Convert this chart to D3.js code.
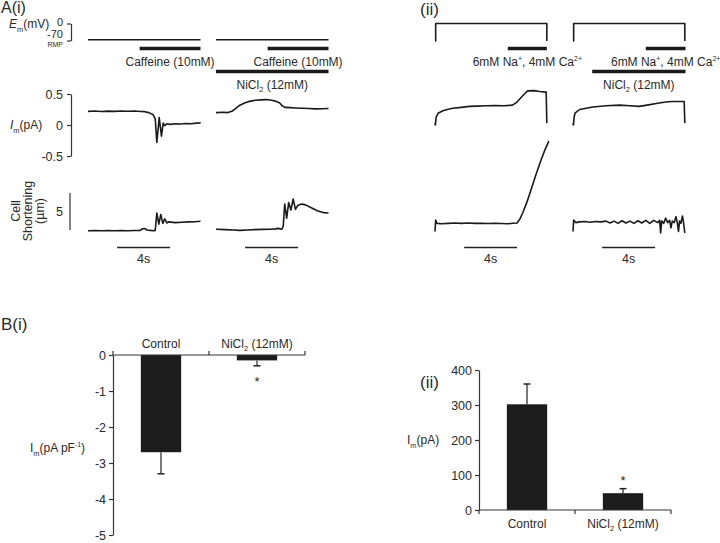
<!DOCTYPE html>
<html>
<head>
<meta charset="utf-8">
<script src="https://cdn.jsdelivr.net/npm/d3@7"></script>
<style>
  body { margin: 0; background: #fff; }
  svg { font-family: "Liberation Sans", Arial, sans-serif; }
  text { fill: #2a2a2a; }
  .trace { fill: none; stroke: #1a1a1a; stroke-width: 1.6; stroke-linejoin: round; }
  .axis path, .axis line { stroke: #333; stroke-width: 1.2; }
  .axis text { font-size: 12.5px; fill: #2a2a2a; font-family: "Liberation Sans", Arial, sans-serif; }
</style>
</head>
<body>
<svg id="fig" width="720" height="543"></svg>
<script>
// traces: [time (s), value]
const emCaff = [[0, -67], [8.5, -67]];
const protocol = [[0, -72], [0.05, -72], [0.05, 0], [8.45, 0], [8.45, -72]];

const imCaff = [[0, 0.22], [0.5, 0.225], [1, 0.218], [1.5, 0.224], [2, 0.22], [2.5, 0.226], [3, 0.221],
  [3.5, 0.225], [4, 0.218], [4.3, 0.215], [4.6, 0.2], [4.9, 0.17], [5.08, 0.1], [5.2, -0.28], [5.38, 0.12],
  [5.55, -0.18], [5.68, 0.03], [5.8, -0.01], [5.95, 0.02], [6.2, 0.01], [6.6, 0.02], [7, 0.015], [7.4, 0.025],
  [7.8, 0.02], [8.2, 0.03], [8.45, 0.035], [8.5, 0.045]];
const imNiCaff = [[0, 0.2], [0.5, 0.205], [0.9, 0.2], [1.2, 0.22], [1.5, 0.27], [1.8, 0.32], [2.2, 0.36],
  [2.6, 0.385], [3, 0.4], [3.4, 0.405], [3.8, 0.41], [4.2, 0.4], [4.5, 0.385], [4.8, 0.36], [5.0, 0.31],
  [5.2, 0.285], [5.6, 0.28], [6, 0.275], [6.5, 0.27], [7, 0.265], [7.5, 0.26], [8, 0.262], [8.5, 0.265]];

const shCaff = [[0, -0.1], [0.5, -0.08], [1, -0.1], [1.5, -0.07], [2, -0.1], [2.5, -0.08], [3, -0.1],
  [3.5, -0.06], [3.95, -0.05], [4.1, 0.15], [4.3, 0.2], [4.45, 0.0], [4.7, -0.05], [4.95, -0.1], [5.08, -0.05],
  [5.2, 2.3], [5.35, 0.8], [5.5, 2.1], [5.65, 0.9], [5.8, 1.5], [5.96, 0.95], [6.1, 1.1], [6.6, 1.0],
  [7.1, 1.05], [7.6, 1.1], [8.1, 1.12], [8.5, 1.18]];
const shNiCaff = [[0, 0.1], [0.7, 0.05], [1.3, 0.0], [1.8, -0.05], [2.4, 0.0], [2.9, 0.05], [3.5, 0.08],
  [4.1, 0.1], [4.5, 0.15], [4.7, 0.22], [4.97, 0.1], [5.08, 0.5], [5.19, 3.5], [5.34, 1.6], [5.49, 3.7],
  [5.66, 2.7], [5.83, 4.2], [6.0, 2.8], [6.17, 3.3], [6.47, 3.5], [6.77, 3.4], [7.2, 3.0], [7.65, 2.6],
  [8.1, 2.35], [8.5, 2.3]];

const imNaCa = [[0, 0.03], [0.03, 0.0], [0.08, 0.12], [0.23, 0.19], [0.6, 0.23], [1, 0.255], [1.35, 0.27],
  [2, 0.285], [2.6, 0.3], [3.2, 0.305], [3.9, 0.31], [4.5, 0.315], [5.2, 0.31], [5.85, 0.32], [6.15, 0.36],
  [6.4, 0.42], [6.75, 0.5], [7.0, 0.55], [7.5, 0.555], [7.9, 0.54], [8.4, 0.53], [8.45, 0.03]];
const imNaCaNi = [[0, 0.03], [0.03, 0.0], [0.08, 0.12], [0.15, 0.19], [0.5, 0.25], [1.5, 0.29], [2.5, 0.31],
  [3.5, 0.32], [4.3, 0.31], [5, 0.3], [5.6, 0.32], [6.4, 0.35], [7.0, 0.37], [7.5, 0.38], [8.4, 0.38],
  [8.45, 0.03]];

const shNaCa = [[0, -0.2], [0.05, 1.35], [0.15, 0.9], [0.5, 0.85], [1, 0.9], [1.5, 0.95], [2, 0.9],
  [2.5, 0.95], [3, 0.9], [3.5, 0.92], [4, 0.88], [4.5, 0.9], [5, 0.88], [5.5, 0.85], [5.9, 0.92],
  [6.2, 0.95], [6.42, 1.5], [6.65, 2.4], [6.95, 3.8], [7.25, 5.4], [7.63, 7.5], [8.0, 9.4], [8.3, 10.8],
  [8.6, 12.0]];
const shNaCaNi = [[0, -0.2], [0.05, 1.35], [0.2, 1.0], [0.5, 1.1], [0.9, 1.15], [1.3, 1.05], [1.7, 1.15],
  [2.1, 1.1], [2.5, 1.2], [2.8, 0.95], [3.1, 1.2], [3.4, 0.9], [3.7, 1.25], [4.0, 0.95], [4.3, 1.2],
  [4.6, 0.9], [4.9, 1.25], [5.2, 0.95], [5.5, 1.3], [5.8, 0.9], [6.1, 1.3], [6.4, 1.0], [6.55, 1.3],
  [6.62, -0.4], [6.7, 1.2], [6.85, 0.9], [7.0, 1.6], [7.15, 1.0], [7.3, 1.3], [7.4, 0.3], [7.5, 1.2],
  [7.65, 1.0], [7.78, 1.8], [7.88, 1.0], [7.97, -0.2], [8.05, 1.2], [8.15, 0.9], [8.27, 1.9], [8.35, 1.0],
  [8.45, -0.4]];

// drug applications [start, end] in s
const caffeineOn = [3.9, 8.5];
const nickelOn = [0, 8.5];
const naCaOn = [5.5, 8.45];
const nickelOnNaCa = [1.45, 8.5];
const scaleBar = [2.2, 6.2];

// bar charts
const barCats = ['Control', 'NiCl2 (12mM)'];
const densityMean = [-2.7, -0.15];
const densitySem = [0.6, 0.15];
const densityTicks = [0, -1, -2, -3, -4, -5];
const ampMean = [302, 48];
const ampSem = [58, 13];
const ampTicks = [0, 100, 200, 300, 400];

const svg = d3.select('#fig');
const FS = 12;

const DUR = 8.5;
const traceW = 112.5;
const tScale = (x0) => d3.scaleLinear().domain([0, DUR]).range([x0, x0 + traceW]);
const emY = d3.scaleLinear().domain([-70, 0]).range([40.5, 23.5]);
const imY = d3.scaleLinear().domain([-0.5, 0.5]).range([156, 94]);
const shY = d3.scaleLinear().domain([0, 5]).range([230, 193]);

function rich(g, x, y, parts, size = FS, anchor = 'start') {
  const t = g.append('text').attr('x', x).attr('y', y)
    .attr('font-size', size).attr('text-anchor', anchor);
  let shift = 0;
  parts.forEach(([s, k]) => {
    const sp = t.append('tspan').text(s);
    let target = 0;
    if (k === 'sub') { target = size * 0.3; sp.attr('font-size', size * 0.62); }
    if (k === 'sup') { target = -size * 0.4; sp.attr('font-size', size * 0.58); }
    if (k === 'i') sp.attr('font-style', 'italic');
    sp.attr('dy', target - shift);
    shift = target;
  });
  return t;
}

function trace(data, xs, ys) {
  svg.append('path')
    .datum(data)
    .attr('class', 'trace')
    .attr('d', d3.line().x((d) => xs(d[0])).y((d) => ys(d[1])));
}

function drugBar(on, xs, y) {
  svg.append('line')
    .attr('x1', xs(on[0])).attr('x2', xs(on[1]))
    .attr('y1', y).attr('y2', y)
    .attr('stroke', '#1a1a1a').attr('stroke-width', 3.6);
}

function timeBar(xs) {
  svg.append('line')
    .attr('x1', xs(scaleBar[0])).attr('x2', xs(scaleBar[1]))
    .attr('y1', 247.5).attr('y2', 247.5)
    .attr('stroke', '#222').attr('stroke-width', 1.3);
  svg.append('text')
    .attr('x', xs((scaleBar[0] + scaleBar[1]) / 2)).attr('y', 262.5)
    .attr('font-size', 12.5).attr('text-anchor', 'middle')
    .text('4s');
}

const caffLabel = [['Caffeine (10mM)', '']];
const naCaLabel = [['6mM Na', ''], ['+', 'sup'], [', 4mM Ca', ''], ['2+', 'sup']];
const niLabel = [['NiCl', ''], ['2', 'sub'], [' (12mM)', '']];

// ---------- A(i) ----------
svg.append('text').attr('x', 1).attr('y', 13).attr('font-size', 16).text('A(i)');

const emAxis = svg.append('g').attr('class', 'axis').attr('transform', 'translate(71,0)')
  .call(d3.axisLeft(emY).tickValues([-70, 0]).tickSize(4).tickSizeOuter(0).tickFormat(''));
emAxis.selectAll('text').remove();
rich(svg, 9, 28, [['E', 'i'], ['m', 'sub'], ['(mV)', '']]);
svg.append('text').attr('x', 63).attr('y', 25.5).attr('font-size', 11).attr('text-anchor', 'end').text('0');
svg.append('text').attr('x', 63).attr('y', 38).attr('font-size', 11).attr('text-anchor', 'end').text('-70');
svg.append('text').attr('x', 63).attr('y', 46.5).attr('font-size', 7).attr('text-anchor', 'end').text('RMP');

svg.append('g').attr('class', 'axis').attr('transform', 'translate(71,0)')
  .call(d3.axisLeft(imY).tickValues([-0.5, 0, 0.5]).tickSize(4).tickSizeOuter(0).tickPadding(4)
    .tickFormat((d) => String(d)));
rich(svg, 10, imY(0) + 4, [['I', 'i'], ['m', 'sub'], ['(pA)', '']]);

svg.append('line').attr('x1', 70).attr('x2', 70).attr('y1', shY(0)).attr('y2', shY(5))
  .attr('stroke', '#333').attr('stroke-width', 1.2);
svg.append('text').attr('x', 63).attr('y', shY(2.5) + 4.5).attr('font-size', 12.5)
  .attr('text-anchor', 'end').text('5');
['Cell', 'Shortening', '(\u00b5m)'].forEach((s, i) => {
  svg.append('text')
    .attr('transform', `translate(${20 + i * 12},${shY(2.5) - 0.5}) rotate(-90)`)
    .attr('font-size', 12.5).attr('text-anchor', 'middle').text(s);
});

const tA1 = tScale(88);
const tA2 = tScale(216);
trace(emCaff, tA1, emY);
trace(emCaff, tA2, emY);
drugBar(caffeineOn, tA1, 48.5);
drugBar(caffeineOn, tA2, 48.5);
rich(svg, tA1((caffeineOn[0] + caffeineOn[1]) / 2), 65.5, caffLabel, FS, 'middle');
rich(svg, tA2((caffeineOn[0] + caffeineOn[1]) / 2), 65.5, caffLabel, FS, 'middle');
drugBar(nickelOn, tA2, 71.5);
rich(svg, tA2((nickelOn[0] + nickelOn[1]) / 2), 88.5, niLabel, FS, 'middle');
trace(imCaff, tA1, imY);
trace(imNiCaff, tA2, imY);
trace(shCaff, tA1, shY);
trace(shNiCaff, tA2, shY);
timeBar(tA1);
timeBar(tA2);

// ---------- A(ii) ----------
svg.append('text').attr('x', 420).attr('y', 15).attr('font-size', 17).text('(ii)');
const tB1 = tScale(435);
const tB2 = tScale(573);
trace(protocol, tB1, emY);
trace(protocol, tB2, emY);
drugBar(naCaOn, tB1, 48.5);
drugBar([naCaOn[0], DUR], tB2, 48.5);
rich(svg, tB1((naCaOn[0] + naCaOn[1]) / 2), 65.5, naCaLabel, FS, 'middle');
rich(svg, tB2((naCaOn[0] + DUR) / 2), 65.5, naCaLabel, FS, 'middle');
drugBar(nickelOnNaCa, tB2, 71.5);
rich(svg, tB2((nickelOnNaCa[0] + nickelOnNaCa[1]) / 2), 88.5, niLabel, FS, 'middle');
trace(imNaCa, tB1, imY);
trace(imNaCaNi, tB2, imY);
trace(shNaCa, tB1, shY);
trace(shNaCaNi, tB2, shY);
timeBar(tB1);
timeBar(tB2);

// ---------- bar charts ----------
function catLabel(g, c, x, y) {
  if (c === 'Control') rich(g, x, y, [['Control', '']], FS, 'middle');
  else rich(g, x, y, niLabel, FS, 'middle');
}

function errorBar(x, y1, y2) {
  svg.append('line').attr('x1', x).attr('x2', x).attr('y1', y1).attr('y2', y2)
    .attr('stroke', '#222').attr('stroke-width', 1.2);
  svg.append('line').attr('x1', x - 3.5).attr('x2', x + 3.5).attr('y1', y2).attr('y2', y2)
    .attr('stroke', '#222').attr('stroke-width', 1.5);
}

// B(i)
svg.append('text').attr('x', 1).attr('y', 330).attr('font-size', 17).text('B(i)');
const yB1 = d3.scaleLinear().domain([-5, 0]).range([535, 355]);
const xB1 = d3.scaleBand().domain(barCats).range([113, 305]).paddingInner(0.58).paddingOuter(0.29);

barCats.forEach((c, i) => {
  const cx = xB1(c) + xB1.bandwidth() / 2;
  errorBar(cx, yB1(densityMean[i]), yB1(densityMean[i] - densitySem[i]));
});
svg.append('g').selectAll('rect').data(barCats).enter().append('rect')
  .attr('x', (d) => xB1(d))
  .attr('y', yB1(0))
  .attr('width', xB1.bandwidth())
  .attr('height', (d, i) => yB1(densityMean[i]) - yB1(0))
  .attr('fill', '#1c1c1c');

svg.append('g').attr('class', 'axis').attr('transform', 'translate(113,0)')
  .call(d3.axisLeft(yB1).tickValues(densityTicks).tickSize(4).tickSizeOuter(0).tickPadding(3)
    .tickFormat((d) => String(d)));
const edgesB1 = [xB1.range()[0], xB1.range()[0] + xB1.step(), xB1.range()[1]];
svg.append('line').attr('x1', edgesB1[0]).attr('x2', edgesB1[2]).attr('y1', yB1(0)).attr('y2', yB1(0))
  .attr('stroke', '#333').attr('stroke-width', 1.2);
edgesB1.forEach((x) => {
  svg.append('line').attr('x1', x).attr('x2', x).attr('y1', yB1(0)).attr('y2', yB1(0) - 4)
    .attr('stroke', '#333').attr('stroke-width', 1.2);
});
barCats.forEach((c) => catLabel(svg, c, xB1(c) + xB1.bandwidth() / 2, 347.5));
svg.append('text')
  .attr('x', xB1(barCats[1]) + xB1.bandwidth() / 2)
  .attr('y', yB1(densityMean[1] - densitySem[1]) + 20)
  .attr('font-size', 13).attr('text-anchor', 'middle').text('*');
rich(svg, 30, 452, [['I', ''], ['m', 'sub'], ['(pA pF', ''], ['-1', 'sup'], [')', '']]);

// B(ii)
svg.append('text').attr('x', 420).attr('y', 388).attr('font-size', 17).text('(ii)');
const yB2 = d3.scaleLinear().domain([0, 400]).range([510, 370]);
const xB2 = d3.scaleBand().domain(barCats).range([479, 671]).paddingInner(0.58).paddingOuter(0.29);

barCats.forEach((c, i) => {
  const cx = xB2(c) + xB2.bandwidth() / 2;
  errorBar(cx, yB2(ampMean[i]), yB2(ampMean[i] + ampSem[i]));
});
svg.append('g').selectAll('rect').data(barCats).enter().append('rect')
  .attr('x', (d) => xB2(d))
  .attr('y', (d, i) => yB2(ampMean[i]))
  .attr('width', xB2.bandwidth())
  .attr('height', (d, i) => yB2(0) - yB2(ampMean[i]))
  .attr('fill', '#1c1c1c');

svg.append('g').attr('class', 'axis').attr('transform', 'translate(479,0)')
  .call(d3.axisLeft(yB2).tickValues(ampTicks).tickSize(4).tickSizeOuter(0).tickPadding(3)
    .tickFormat((d) => String(d)));
const edgesB2 = [xB2.range()[0], xB2.range()[0] + xB2.step(), xB2.range()[1]];
svg.append('line').attr('x1', edgesB2[0]).attr('x2', edgesB2[2]).attr('y1', yB2(0)).attr('y2', yB2(0))
  .attr('stroke', '#333').attr('stroke-width', 1.2);
edgesB2.forEach((x) => {
  svg.append('line').attr('x1', x).attr('x2', x).attr('y1', yB2(0)).attr('y2', yB2(0) + 4)
    .attr('stroke', '#333').attr('stroke-width', 1.2);
});
barCats.forEach((c) => catLabel(svg, c, xB2(c) + xB2.bandwidth() / 2, 527.5));
svg.append('text')
  .attr('x', xB2(barCats[1]) + xB2.bandwidth() / 2)
  .attr('y', yB2(ampMean[1] + ampSem[1]) - 4)
  .attr('font-size', 13).attr('text-anchor', 'middle').text('*');
rich(svg, 407, 444, [['I', ''], ['m', 'sub'], ['(pA)', '']]);
</script>
</body>
</html>
